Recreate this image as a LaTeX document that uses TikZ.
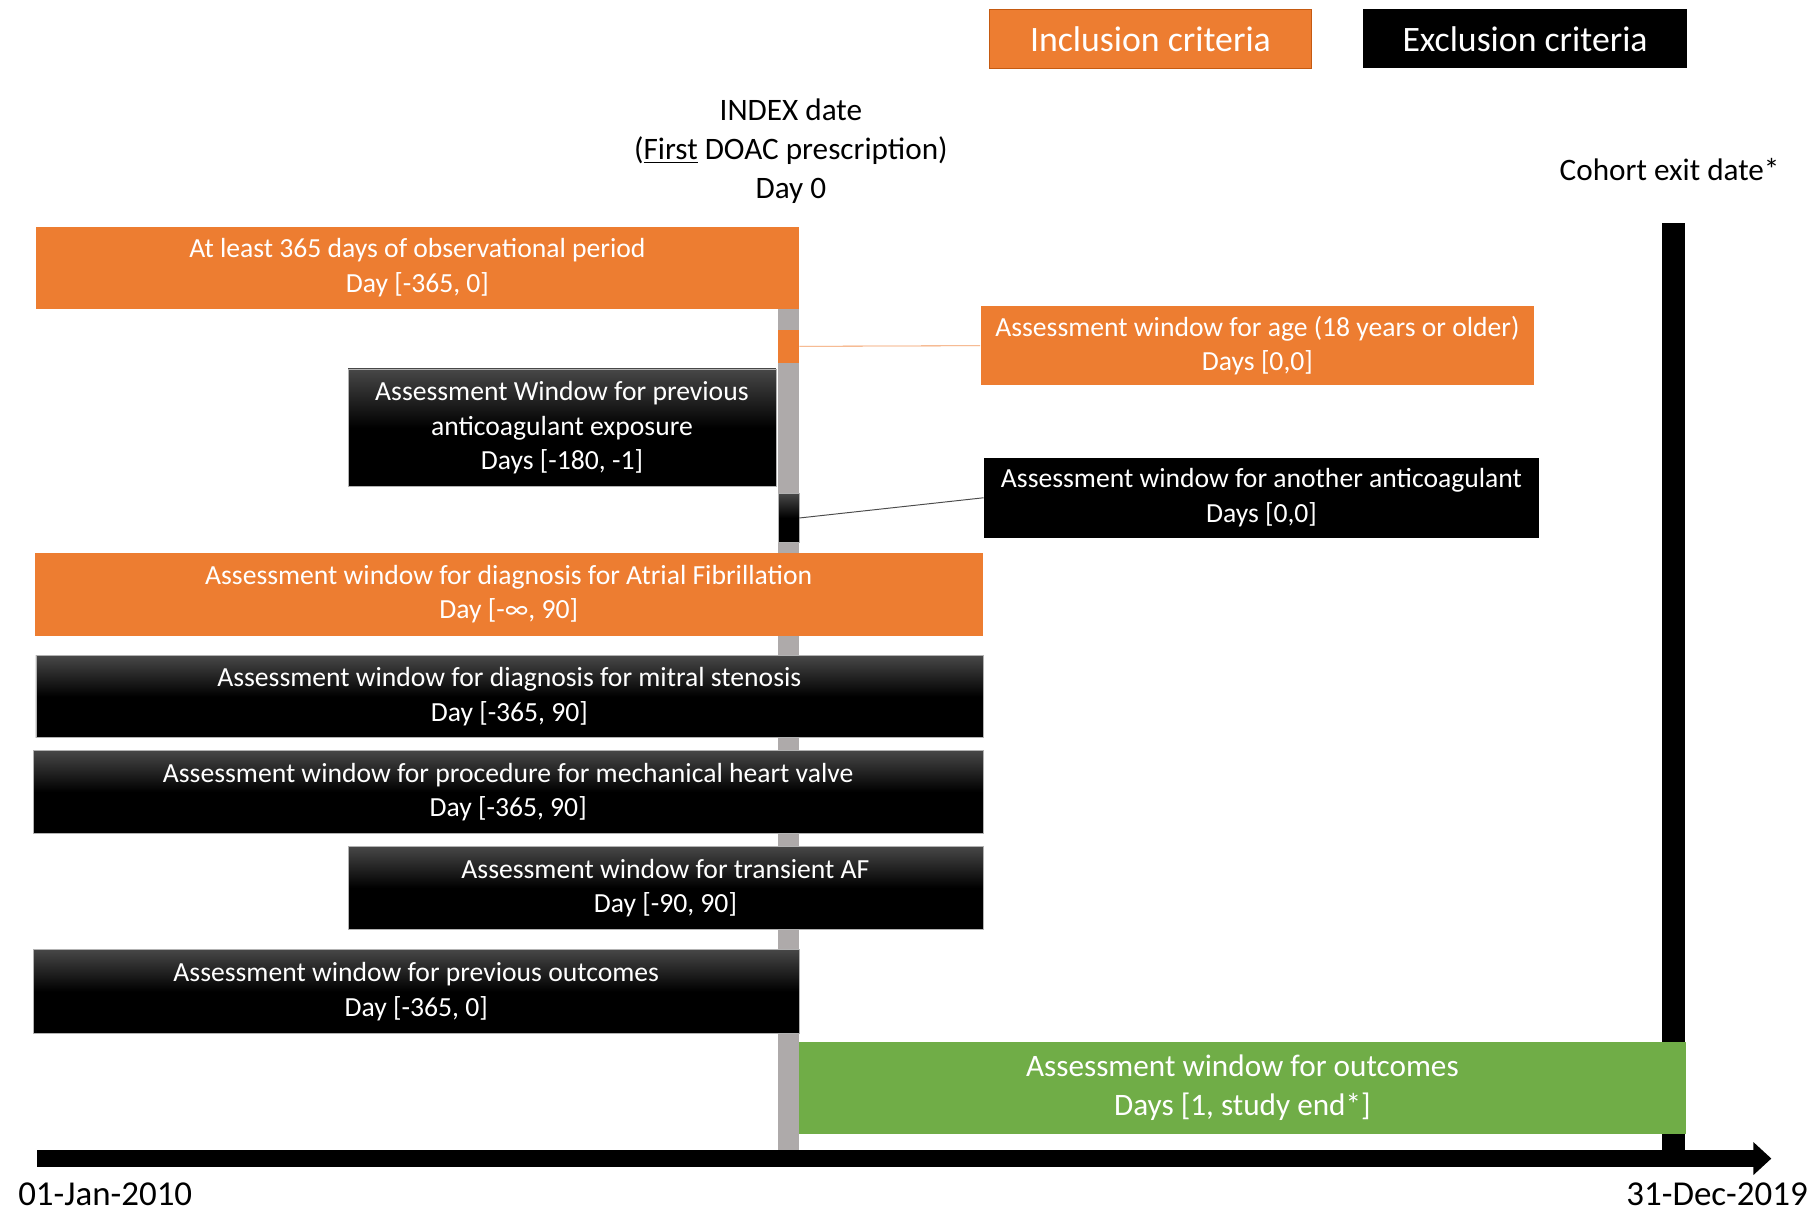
\documentclass[tikz,border=0pt]{standalone}
\usepackage{fontspec}
\setmainfont{Carlito}
\usepackage{tikz}
\usetikzlibrary{arrows.meta}

\definecolor{critorange}{HTML}{ED7D31}
\definecolor{critedge}{HTML}{C55A11}
\definecolor{outgreen}{HTML}{70AD47}
\definecolor{daygrey}{HTML}{AEAAAA}

\newcommand{\boxfont}{\fontsize{17}{21.3}\selectfont}
\newcommand{\keyfont}{\fontsize{22}{26}\selectfont}
\newcommand{\markfont}{\fontsize{19.2}{24.1}\selectfont}
\newcommand{\datefont}{\fontsize{21.5}{26}\selectfont}

\tikzset{
  incl/.style={fill=critorange, text=white, font=\boxfont, align=center, inner sep=0pt},
  excl/.style={top color=black!72, bottom color=black, middle color=black,
               draw=black!30, line width=0.4pt, text=white, font=\boxfont, align=center, inner sep=0pt},
  flatexcl/.style={fill=black, text=white, font=\boxfont, align=center, inner sep=0pt},
  outc/.style={fill=outgreen, text=white, font=\markfont, align=center, inner sep=0pt},
  daymark/.style={minimum width=4.5mm, inner sep=0pt},
}

\begin{document}
\begin{tikzpicture}[x=0.25mm, y=-0.25mm]
  \useasboundingbox (0,0) rectangle (1568,1047);
  % legend
  \node[fill=critorange, draw=critedge, line width=0.8pt, text=white, font=\keyfont,
        minimum width=69.5mm, minimum height=12.75mm] (inkey) at (995,33.5) {Inclusion criteria};
  \node[fill=black, text=white, font=\keyfont,
        minimum width=70mm, minimum height=12.75mm] (exkey) at (1319,33.5) {Exclusion criteria};
  % index and exit dates
  \node[font=\markfont, align=center] (index) at (684,131)
    {INDEX date\\(\underline{First} DOAC prescription)\\Day 0};
  \node[font=\markfont] (exit) at (1444,147) {Cohort exit date*};
  \fill[daygrey] (673,267) rectangle (691,996);
  \fill[black] (1437,193) rectangle (1457,1000);
  % time axis
  \coordinate (t0) at (32,1002);
  \coordinate (t1) at (1532,1002);
  \draw[line width=3.7mm, -{Triangle[length=3.9mm, width=6.9mm]}] (t0) -- (t1);
  \node[font=\datefont, anchor=base, inner sep=0pt] (start) at (91,1043) {01-Jan-2010};
  \node[font=\datefont, anchor=base, inner sep=0pt] (end) at (1485,1043) {31-Dec-2019};
  % windows
  \node[incl, minimum width=165mm, minimum height=17.75mm] (obs) at (361,231.5)
    {At least 365 days of observational period\\Day [-365, 0]};
  \node[incl, daymark, minimum height=7.25mm] (agemark) at (682,299.5) {};
  \node[incl, minimum width=119.75mm, minimum height=17mm] (age) at (1087.5,299)
    {Assessment window for age (18 years or older)\\Days [0,0]};
  \node[excl, minimum width=92.5mm, minimum height=25.5mm] (prevac) at (486,370)
    {Assessment Window for previous\\anticoagulant exposure\\Days [-180, -1]};
  \node[excl, daymark, minimum height=10.5mm] (acmark) at (682,448) {};
  \node[flatexcl, minimum width=120mm, minimum height=17.25mm] (otherac) at (1091,430.5)
    {Assessment window for another anticoagulant\\Days [0,0]};
  \node[incl, minimum width=205mm, minimum height=18mm] (af) at (440,514)
    {Assessment window for diagnosis for Atrial Fibrillation\\Day [-∞, 90]};
  \node[excl, minimum width=204.75mm, minimum height=17.75mm] (ms) at (440.5,602.5)
    {Assessment window for diagnosis for mitral stenosis\\Day [-365, 90]};
  \node[excl, minimum width=205.25mm, minimum height=18mm] (mhv) at (439.5,685)
    {Assessment window for procedure for mechanical heart valve\\Day [-365, 90]};
  \node[excl, minimum width=137.25mm, minimum height=18mm] (taf) at (575.5,768)
    {Assessment window for transient AF\\Day [-90, 90]};
  \node[excl, minimum width=165.5mm, minimum height=18.25mm] (prevout) at (360,857.5)
    {Assessment window for previous outcomes\\Day [-365, 0]};
  \node[outc, minimum width=191.75mm, minimum height=20mm] (outcomes) at (1074.5,941)
    {Assessment window for outcomes\\Days [1, study end*]};
  % leader lines
  \draw[critorange!80, line width=0.5pt] (agemark.east) -- (age.west);
  \draw[black!70, line width=0.6pt] (acmark.east) -- (otherac.west);
\end{tikzpicture}
\end{document}
